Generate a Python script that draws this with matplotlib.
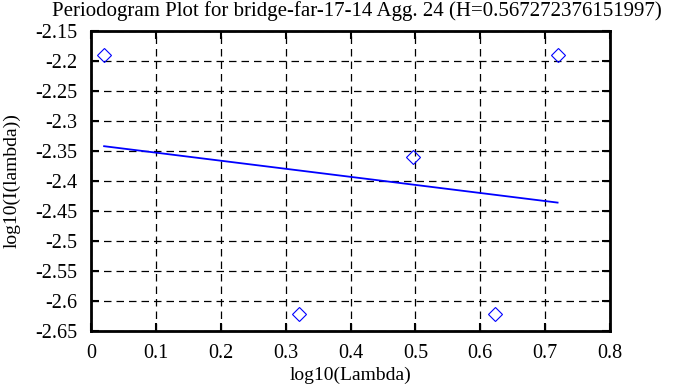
import numpy as np
import matplotlib.pyplot as plt

# periodogram points (log10 lambda, log10 I(lambda))
log_lambda = [0.0202, 0.3212, 0.4969, 0.6223, 0.7192]
log_I = [-2.19, -2.621, -2.36, -2.621, -2.19]

# least squares fit line endpoints
fit_x = [0.0202, 0.7192]
fit_y = [-2.342, -2.436]

title = 'Periodogram Plot for bridge-far-17-14 Agg. 24 (H=0.567272376151997)'
xticks = ['0', '0.1', '0.2', '0.3', '0.4', '0.5', '0.6', '0.7', '0.8']
yticks = ['-2.65', '-2.6', '-2.55', '-2.5', '-2.45', '-2.4', '-2.35',
          '-2.3', '-2.25', '-2.2', '-2.15']

plt.rcParams['font.family'] = ['Liberation Serif', 'DejaVu Serif']

fig = plt.figure(figsize=(6.93, 3.87), dpi=100)
ax = fig.add_axes([91 / 693, 1 - 331 / 387, 519 / 693, 300 / 387])

ax.plot(log_lambda, log_I, linestyle='none', marker='D', markersize=7,
        markerfacecolor='none', markeredgecolor='blue', markeredgewidth=0.8)
ax.plot(fit_x, fit_y, color='blue', linewidth=1.3)

ax.set_xlim(0, 0.8)
ax.set_ylim(-2.65, -2.15)
ax.set_xticks(np.linspace(0, 0.8, 9))
ax.set_xticklabels(xticks)
ax.set_yticks(np.linspace(-2.65, -2.15, 11))
ax.set_yticklabels(yticks)

ax.grid(True, color='black', linestyle=(0, (6, 4)), linewidth=0.9)
ax.tick_params(direction='in', length=6, width=1.5, top=True, right=True,
               labelsize=14.5)
ax.tick_params(axis='y', pad=10)
ax.tick_params(axis='x', pad=9)
for s in ax.spines.values():
    s.set_linewidth(2)

ax.set_xlabel('log10(Lambda)', fontsize=14, labelpad=3)
ax.set_ylabel('log10(I(lambda))', fontsize=14)
ax.yaxis.set_label_coords(-0.135, 0.5)
fig.text(357 / 693, 1 - 11 / 387, title, fontsize=15, ha='center', va='center')

fig.savefig('out.png', dpi=100)
